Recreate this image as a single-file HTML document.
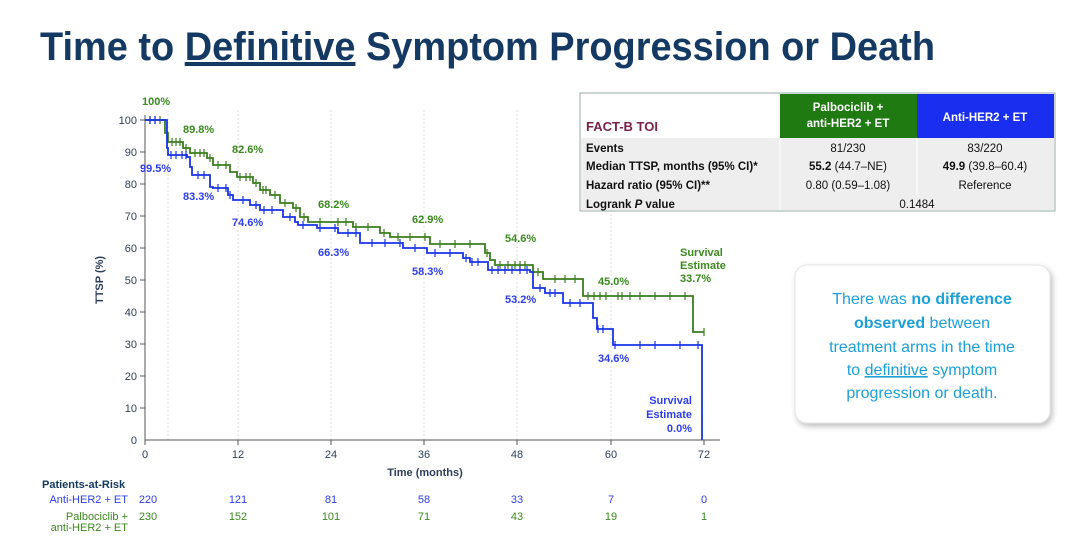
<!DOCTYPE html>
<html><head><meta charset="utf-8"><style>
body{margin:0;background:#fff;}
svg{display:block;font-family:"Liberation Sans",Arial,sans-serif;}
</style></head><body>
<svg id="s" width="1080" height="553" viewBox="0 0 1080 553" xmlns="http://www.w3.org/2000/svg">
<defs><filter id="sh" x="-10%" y="-10%" width="130%" height="130%"><feDropShadow dx="2" dy="3" stdDeviation="3" flood-color="#000" flood-opacity="0.25"/></filter></defs>
<text x="40" y="60" font-size="40" font-weight="bold" fill="#143a63" textLength="895" lengthAdjust="spacingAndGlyphs">Time to <tspan text-decoration="underline">Definitive</tspan> Symptom Progression or Death</text>

<g stroke="#ddd" stroke-dasharray="2,2">
<line x1="168" y1="110" x2="168" y2="440"/><line x1="238" y1="110" x2="238" y2="440"/><line x1="331" y1="110" x2="331" y2="440"/><line x1="424" y1="110" x2="424" y2="440"/><line x1="517" y1="110" x2="517" y2="440"/><line x1="611" y1="110" x2="611" y2="440"/>
</g>
<g stroke="#555" stroke-width="1">
<line x1="145" y1="115" x2="145" y2="440"/><line x1="145" y1="440" x2="720" y2="440"/>
</g>
<g font-size="11" fill="#2d3f5a" text-anchor="end">
<text x="137" y="124">100</text><text x="137" y="156">90</text><text x="137" y="188">80</text><text x="137" y="220">70</text><text x="137" y="252">60</text><text x="137" y="284">50</text><text x="137" y="316">40</text><text x="137" y="348">30</text><text x="137" y="380">20</text><text x="137" y="412">10</text><text x="137" y="444">0</text>
</g>
<g stroke="#555"><line x1="140" y1="120" x2="145" y2="120"/><line x1="140" y1="152" x2="145" y2="152"/><line x1="140" y1="184" x2="145" y2="184"/><line x1="140" y1="216" x2="145" y2="216"/><line x1="140" y1="248" x2="145" y2="248"/><line x1="140" y1="280" x2="145" y2="280"/><line x1="140" y1="312" x2="145" y2="312"/><line x1="140" y1="344" x2="145" y2="344"/><line x1="140" y1="376" x2="145" y2="376"/><line x1="140" y1="408" x2="145" y2="408"/>
<line x1="145" y1="440" x2="145" y2="445"/><line x1="238" y1="440" x2="238" y2="445"/><line x1="331" y1="440" x2="331" y2="445"/><line x1="424" y1="440" x2="424" y2="445"/><line x1="517" y1="440" x2="517" y2="445"/><line x1="611" y1="440" x2="611" y2="445"/><line x1="704" y1="440" x2="704" y2="445"/></g>
<g font-size="11" fill="#2d3f5a" text-anchor="middle">
<text x="145" y="458">0</text><text x="238" y="458">12</text><text x="331" y="458">24</text><text x="424" y="458">36</text><text x="517" y="458">48</text><text x="611" y="458">60</text><text x="704" y="458">72</text>
<text x="425" y="476" font-weight="bold">Time (months)</text>
</g>
<text transform="translate(103,280) rotate(-90)" font-size="11" font-weight="bold" fill="#2d3f5a" text-anchor="middle">TTSP (%)</text>

<g id="curves"></g>

<g font-size="11" font-weight="bold" fill="#3a8a1e">
<text x="142" y="105">100%</text><text x="183" y="133">89.8%</text><text x="232" y="153">82.6%</text><text x="318" y="208">68.2%</text><text x="412" y="223">62.9%</text><text x="505" y="242">54.6%</text><text x="598" y="285">45.0%</text>
<text x="680" y="256">Survival</text><text x="680" y="269">Estimate</text><text x="680" y="282">33.7%</text>
</g>
<g font-size="11" font-weight="bold" fill="#2d3ef0">
<text x="140" y="172">99.5%</text><text x="183" y="200">83.3%</text><text x="232" y="226">74.6%</text><text x="318" y="256">66.3%</text><text x="412" y="275">58.3%</text><text x="505" y="303">53.2%</text><text x="598" y="362">34.6%</text>
<text x="692" y="404" text-anchor="end">Survival</text><text x="692" y="418" text-anchor="end">Estimate</text><text x="692" y="432" text-anchor="end">0.0%</text>
</g>
<text x="42" y="488" font-size="11" font-weight="bold" fill="#143a63">Patients-at-Risk</text>
<g font-size="11" fill="#2d3ef0"><text x="128" y="503" text-anchor="end">Anti-HER2 + ET</text>
<g text-anchor="middle"><text x="148" y="503">220</text><text x="238" y="503">121</text><text x="331" y="503">81</text><text x="424" y="503">58</text><text x="517" y="503">33</text><text x="611" y="503">7</text><text x="704" y="503">0</text></g></g>
<g font-size="11" fill="#3a8a1e"><text x="128" y="520" text-anchor="end">Palbociclib +</text><text x="128" y="531" text-anchor="end">anti-HER2 + ET</text>
<g text-anchor="middle"><text x="148" y="520">230</text><text x="238" y="520">152</text><text x="331" y="520">101</text><text x="424" y="520">71</text><text x="517" y="520">43</text><text x="611" y="520">19</text><text x="704" y="520">1</text></g></g>

<rect x="580" y="93" width="475" height="118" fill="#fff" stroke="#9aa" stroke-width="1"/>
<rect x="581" y="138" width="473" height="72" fill="#eeeeee"/>
<rect x="780" y="94" width="137" height="44" fill="#1f7a12"/>
<rect x="917" y="94" width="137" height="44" fill="#1a2ef0"/>
<g stroke="#fff"><line x1="780" y1="138" x2="780" y2="210"/><line x1="917" y1="138" x2="917" y2="194"/></g>
<text x="586" y="131" font-size="13" font-weight="bold" fill="#7a1f4a">FACT-B TOI</text>
<g font-size="11.5" font-weight="bold" fill="#fff" text-anchor="middle"><text x="848" y="111">Palbociclib +</text><text x="848" y="127">anti-HER2 + ET</text><text x="985" y="121">Anti-HER2 + ET</text></g>
<g font-size="11.5" fill="#111"><g font-weight="bold"><text x="586" y="152">Events</text><text x="586" y="170">Median TTSP, months (95% CI)*</text><text x="586" y="189">Hazard ratio (95% CI)**</text><text x="586" y="208">Logrank <tspan font-style="italic">P</tspan> value</text></g>
<g text-anchor="middle"><text x="848" y="152">81/230</text><text x="985" y="152">83/220</text><text x="848" y="170"><tspan font-weight="bold">55.2</tspan> (44.7–NE)</text><text x="985" y="170"><tspan font-weight="bold">49.9</tspan> (39.8–60.4)</text><text x="848" y="189">0.80 (0.59–1.08)</text><text x="985" y="189">Reference</text><text x="917" y="208">0.1484</text></g></g>

<rect x="795" y="265" width="255" height="158" rx="12" fill="#fff" stroke="#e4e4e4" filter="url(#sh)"/>
<g font-size="16" fill="#1ba0d8" text-anchor="middle">
<text x="922" y="304">There was <tspan font-weight="bold">no difference</tspan></text>
<text x="922" y="328"><tspan font-weight="bold">observed</tspan> between</text>
<text x="922" y="352">treatment arms in the time</text>
<text x="922" y="375">to <tspan text-decoration="underline">definitive</tspan> symptom</text>
<text x="922" y="398">progression or death.</text>
</g>
</svg>
<script>
// steps: [xEnd, y] : level y holds until xEnd
var green=[[165,120],[168,133],[183,142],[190,148],[207,153],[213,158],[230,165],[237,172],[253,177],[260,183],[270,190],[280,195],[293,203],[300,208],[308,217],[353,222],[380,227],[390,233],[430,237],[485,244],[490,253],[495,260],[533,265],[543,272],[583,279],[693,296],[704,332]];
var blue=[[167,120],[168,148],[187,155],[190,157],[192,167],[210,175],[213,187],[228,188],[233,195],[250,200],[260,205],[283,210],[295,217],[298,222],[317,225],[338,228],[360,233],[403,243],[427,248],[463,253],[470,258],[488,262],[530,270],[533,272],[545,288],[563,293],[593,303],[597,318],[613,329],[702,345]];
var gticks=[150,155,160,172,176,180,186,195,200,204,210,218,226,240,246,250,256,263,266,275,285,296,304,320,338,346,356,368,384,398,410,425,440,455,470,487,500,508,515,520,525,538,555,565,575,588,594,600,606,618,622,630,640,655,670,685,704];
var bticks=[150,155,171,176,182,186,198,204,218,226,230,243,256,264,272,290,303,320,335,348,356,372,385,400,415,435,450,466,472,478,492,498,505,512,520,527,540,550,555,570,580,598,603,615,640,655,680,698];
var ns="http://www.w3.org/2000/svg",g=document.getElementById("curves");
function draw(st,col,ticks,endDrop){
 var p="M145,"+st[0][1],x0=145;
 for(var i=0;i<st.length;i++){p+=" H"+st[i][0];if(i+1<st.length)p+=" V"+st[i+1][1];}
 if(endDrop)p+=" V440";
 var e=document.createElementNS(ns,"path");e.setAttribute("d",p);e.setAttribute("fill","none");e.setAttribute("stroke",col);e.setAttribute("stroke-width","1.8");g.appendChild(e);
 var t="";
 ticks.forEach(function(x){var y=st[st.length-1][1];for(var i=0;i<st.length;i++){if(x<st[i][0]){y=st[i][1];break;}}t+="M"+x+" "+(y-4)+"v8";});
 var f=document.createElementNS(ns,"path");f.setAttribute("d",t);f.setAttribute("stroke",col);f.setAttribute("stroke-width","1.2");g.appendChild(f);
}
draw(green,"#3a7d1e",gticks,false);
draw(blue,"#1733e8",bticks,true);
</script>
</body></html>
